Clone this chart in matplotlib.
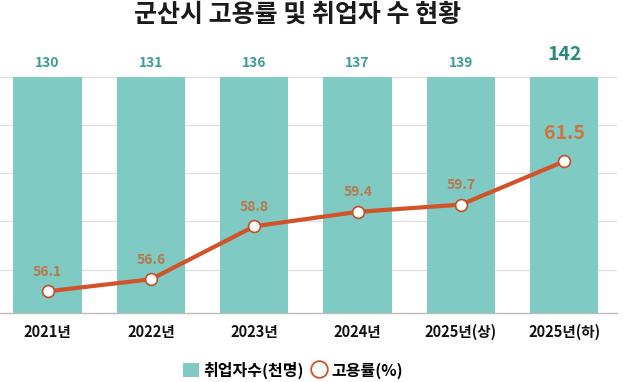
import matplotlib
matplotlib.use("Agg")
import matplotlib.pyplot as plt
from matplotlib.lines import Line2D
from matplotlib.patches import Patch

plt.rcParams['font.family'] = ['Noto Sans CJK KR', 'DejaVu Sans']

categories = ['2021년', '2022년', '2023년', '2024년', '2025년(상)', '2025년(하)']
workers = [130, 131, 136, 137, 139, 142]          # 취업자수(천명)
emp_rate = [56.1, 56.6, 58.8, 59.4, 59.7, 61.5]   # 고용률(%)
grid_vals = [57, 59, 61, 63, 65]

W, H = 623, 382
fig = plt.figure(figsize=(W / 100, H / 100), dpi=100)
L, R, T, B = 0, 617, 77, 313
ax = fig.add_axes([L / W, 1 - B / H, (R - L) / W, (B - T) / H])
ax2 = ax.twinx()

x = list(range(len(categories)))
bar_color = '#7fcac3'
line_color = '#d2532a'

RLO, RHI = 55.2, 65.0
BHI = 125

# bars on the left axis (clipped at top so all fill the panel)
ax.bar(x, workers, width=0.66, color=bar_color, zorder=2)
ax.set_ylim(0, BHI)
ax.set_xlim(-0.46, 5.51)
ax.set_yticks([(v - RLO) / (RHI - RLO) * BHI for v in grid_vals])
ax.grid(axis='y', color='#dedede', linewidth=0.9, zorder=0)
ax.set_axisbelow(True)
for i, v in enumerate(workers):
    last = i == len(workers) - 1
    ax.annotate(str(v), (i, BHI), xytext=(0, 16 if last else 10), textcoords='offset points',
                ha='center', va='center', fontsize=14 if last else 10,
                fontweight='bold', color='#2a8a7f' if last else '#3d9e95',
                annotation_clip=False)

# line on the right axis
ax2.set_ylim(RLO, RHI)
ax2.plot(x, emp_rate, color=line_color, linewidth=3.0, zorder=3,
         marker='o', markersize=8.5, markerfacecolor='white',
         markeredgecolor='#c0502a', markeredgewidth=1.2)
for i, v in enumerate(emp_rate):
    last = i == len(emp_rate) - 1
    ax2.annotate(f'{v:.1f}', (i, v), xytext=(0, 20 if last else 14), textcoords='offset points',
                 ha='center', va='center', fontsize=14 if last else 10,
                 fontweight='bold', color='#cf7440' if last else '#b9774a', zorder=4)

ax.set_zorder(0)
ax2.set_zorder(1)
ax2.patch.set_visible(False)
ax.tick_params(axis='y', length=0, labelleft=False)
ax2.set_yticks([])
ax.set_xticks(x)
ax.set_xticklabels(categories, fontsize=10.5, fontweight='bold', color='#111111')
ax.tick_params(axis='x', length=0, pad=8)
for s in ['top', 'left', 'right']:
    ax.spines[s].set_visible(False)
    ax2.spines[s].set_visible(False)
ax2.spines['bottom'].set_visible(False)
ax.spines['bottom'].set_color('#bbbbbb')
ax.spines['bottom'].set_linewidth(1.0)

fig.text(297.5 / W, 1 - 15 / H, '군산시 고용률 및 취업자 수 현황', ha='center', va='center',
         fontsize=18, fontweight='bold', color='#1a1a1a')

handles = [Patch(facecolor=bar_color, edgecolor='none'),
           Line2D([], [], linestyle='none', marker='o', markersize=12,
                  markerfacecolor='white', markeredgecolor=line_color, markeredgewidth=1.3)]
fig.legend(handles, ['취업자수(천명)', '고용률(%)'], loc='center', ncol=2,
           bbox_to_anchor=(293 / W, 1 - 370 / H), frameon=False,
           handlelength=1.0, handleheight=1.0, handletextpad=0.25, columnspacing=0.5,
           prop={'weight': 'bold', 'size': 11.5})

fig.savefig('out.png', dpi=100)
